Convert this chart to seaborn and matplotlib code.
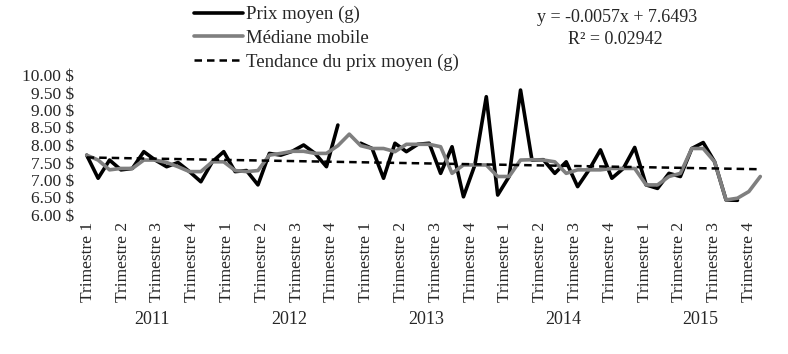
import numpy as np
import pandas as pd
import matplotlib
matplotlib.use("Agg")
import matplotlib.pyplot as plt
from matplotlib.lines import Line2D
import seaborn as sns

# valeurs mensuelles (2011-2015)
prix_moyen = [7.71, 7.05, 7.57, 7.29, 7.33, 7.81, 7.57, 7.38, 7.50, 7.24, 6.95, 7.52,
              7.81, 7.24, 7.27, 6.86, 7.76, 7.71, 7.82, 8.00, 7.76, 7.38, 8.57, np.nan,
              8.05, 7.90, 7.05, 8.05, 7.81, 8.02, 8.05, 7.19, 7.95, 6.52, 7.43, 9.38,
              6.57, 7.10, 9.57, 7.57, 7.58, 7.19, 7.52, 6.81, 7.29, 7.86, 7.05, 7.33,
              7.93, 6.86, 6.76, 7.19, 7.10, 7.90, 8.07, 7.52, 6.43, 6.42, np.nan, np.nan]
mediane_mobile = [7.71, 7.57, 7.29, 7.33, 7.33, 7.57, 7.57, 7.50, 7.38, 7.24, 7.24, 7.52,
                  7.52, 7.27, 7.24, 7.27, 7.71, 7.76, 7.82, 7.82, 7.76, 7.76, 7.98, 8.31,
                  7.98, 7.90, 7.90, 7.81, 8.02, 8.02, 8.02, 7.95, 7.19, 7.43, 7.43, 7.43,
                  7.10, 7.10, 7.57, 7.58, 7.57, 7.52, 7.19, 7.29, 7.29, 7.29, 7.33, 7.33,
                  7.33, 6.86, 6.86, 7.10, 7.19, 7.90, 7.90, 7.52, 6.43, 6.48, 6.67, 7.10]
annees = ["2011", "2012", "2013", "2014", "2015"]
trimestres = ["Trimestre 1", "Trimestre 2", "Trimestre 3", "Trimestre 4"]
pente = -0.0057
ordonnee = 7.6493
r2 = "0.02942"

df = pd.DataFrame({"mois": np.arange(len(prix_moyen)),
                   "prix": prix_moyen,
                   "mediane": mediane_mobile})
# segments pour garder le trou dans la serie de prix
df["segment"] = df["prix"].isna().cumsum()
df_prix = df.dropna(subset=["prix"])
df["tendance"] = pente * (df["mois"] + 1) + ordonnee

sns.set_style("white")
plt.rcParams["font.family"] = ["Liberation Serif", "DejaVu Serif"]

fig = plt.figure(figsize=(7.88, 3.54), dpi=100)
ax = fig.add_axes([81 / 788, 1 - 215 / 354, 685 / 788, 140 / 354])

noir = "black"
gris = "#7f7f7f"
tirets = (0, (3, 2))

sns.lineplot(data=df_prix, x="mois", y="prix", units="segment", estimator=None,
             color=noir, linewidth=2.6, ax=ax, legend=False)
sns.lineplot(data=df, x="mois", y="mediane", color=gris, linewidth=2.6,
             ax=ax, legend=False)
sns.lineplot(data=df, x="mois", y="tendance", color=noir, linewidth=1.8,
             linestyle=tirets, ax=ax, legend=False)

ax.set_xlim(-0.5, 59.5)
ax.set_ylim(6, 10)
yt = np.arange(6, 10.01, 0.5)
ax.set_yticks(yt)
ax.set_yticklabels([f"{v:.2f} $" for v in yt], fontsize=12.5)
pos_trim = np.linspace(0.1, 58, 20)
ax.set_xticks(pos_trim)
ax.set_xticklabels(trimestres * len(annees), rotation=90, fontsize=12.5)
ax.tick_params(axis="both", length=0, pad=5)
ax.set_xlabel("")
ax.set_ylabel("")
for s in ax.spines.values():
    s.set_visible(False)

for i, a in enumerate(annees):
    ax.text(12 * i + 5.7, -0.75, a, transform=ax.get_xaxis_transform(),
            ha="center", va="center", fontsize=13)

handles = [Line2D([], [], color=noir, linewidth=2.6),
           Line2D([], [], color=gris, linewidth=2.6),
           Line2D([], [], color=noir, linewidth=1.8, linestyle=tirets)]
labels = ["Prix moyen (g)", "Médiane mobile", "Tendance du prix moyen (g)"]
fig.legend(handles, labels, loc="upper left", bbox_to_anchor=(194 / 788, 1 - 6 / 354),
           frameon=False, fontsize=13.5, handlelength=2.6, handletextpad=0.15,
           labelspacing=0.35, borderpad=0, borderaxespad=0)

fig.text(617 / 788, 1 - 17 / 354, f"y = {pente}x + {ordonnee}", ha="center",
         va="center", fontsize=13)
fig.text(615 / 788, 1 - 39 / 354, f"R² = {r2}", ha="center", va="center", fontsize=13)

fig.savefig("out.png", dpi=100)
